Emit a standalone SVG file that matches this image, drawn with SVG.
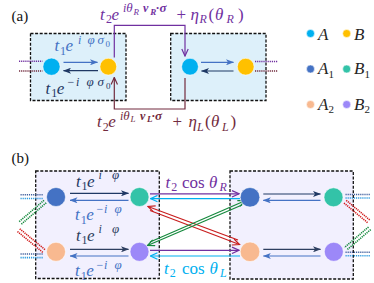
<svg xmlns="http://www.w3.org/2000/svg" width="374" height="283" viewBox="0 0 374 283">
<defs>
<style>
.m{font-family:"Liberation Serif","DejaVu Serif",serif;font-style:italic;font-size:17px}
.u{font-style:normal}
.bd{font-weight:bold}
.s{font-size:12px}
.sb{font-size:13px}
.ss{font-size:9px}
.box{stroke:#111;stroke-width:1.3;stroke-dasharray:3 1.6}
.ba{fill:#DDF0FA}
.bb{fill:#F2F0FE}
.ln{fill:none;stroke-width:1.2}
.dt{fill:none;stroke-width:1.6;stroke-dasharray:1.2 0.9}
.pl{font-family:"Liberation Serif","DejaVu Serif",serif;font-size:15px;fill:#111}
.nd{stroke:#fff;stroke-opacity:.55;stroke-width:1}
</style>
<marker id="mNavy" markerUnits="userSpaceOnUse" markerWidth="8" markerHeight="6" refX="7.5" refY="3" orient="auto"><path d="M0,0 L8,3 L0,6 L2,3z" fill="#1F3864"/></marker>
<marker id="mBlue" markerUnits="userSpaceOnUse" markerWidth="8" markerHeight="6" refX="7.5" refY="3" orient="auto"><path d="M0,0 L8,3 L0,6 L2,3z" fill="#4472C4"/></marker>
<marker id="mSlate" markerUnits="userSpaceOnUse" markerWidth="8" markerHeight="6" refX="7.5" refY="3" orient="auto"><path d="M0,0 L8,3 L0,6 L2,3z" fill="#2E3F60"/></marker>
<marker id="mPurp" markerUnits="userSpaceOnUse" markerWidth="9" markerHeight="8" refX="8" refY="4" orient="auto"><path d="M1,0.8 L8,4 L1,7.2" fill="none" stroke="#7030A0" stroke-width="1.2"/></marker>
<marker id="mMar" markerUnits="userSpaceOnUse" markerWidth="9" markerHeight="8" refX="8" refY="4" orient="auto"><path d="M1,0.8 L8,4 L1,7.2" fill="none" stroke="#722B3E" stroke-width="1.2"/></marker>
<marker id="mCyan" markerUnits="userSpaceOnUse" markerWidth="9" markerHeight="8" refX="8" refY="4" orient="auto"><path d="M1,0.8 L8,4 L1,7.2" fill="none" stroke="#00B0F0" stroke-width="1.2"/></marker>
<marker id="mRed" markerUnits="userSpaceOnUse" markerWidth="9" markerHeight="8" refX="8" refY="4" orient="auto"><path d="M1,0.8 L8,4 L1,7.2" fill="none" stroke="#C81E1E" stroke-width="1.2"/></marker>
<marker id="mGreen" markerUnits="userSpaceOnUse" markerWidth="9" markerHeight="8" refX="8" refY="4" orient="auto"><path d="M1,0.8 L8,4 L1,7.2" fill="none" stroke="#14893C" stroke-width="1.2"/></marker>
</defs>

<!-- panel labels -->
<text class="pl" x="11.5" y="21">(a)</text>
<text class="pl" x="11.5" y="163">(b)</text>

<!-- (a) cell boxes -->
<rect id="cellA1" class="box ba" x="30.5" y="33.5" width="95.5" height="67"/>
<rect id="cellA2" class="box ba" x="170.7" y="33.5" width="95.3" height="67"/>
<!-- (b) cell boxes -->
<rect id="cellB1" class="box bb" x="35.7" y="171" width="123.6" height="107.5"/>
<rect id="cellB2" class="box bb" x="230" y="171" width="123.3" height="108"/>

<g id="connectors">
  <!-- (a) stubs -->
  <line class="dt" x1="19" y1="61.3" x2="42.5" y2="61.3" stroke="#7030A0" stroke-width="1.3"/>
  <line class="dt" x1="19" y1="71" x2="42.5" y2="71" stroke="#722B3E" stroke-width="1.3"/>
  <line class="dt" x1="255" y1="61.5" x2="278" y2="61.5" stroke="#7030A0" stroke-width="1.3"/>
  <line class="dt" x1="255" y1="71" x2="278" y2="71" stroke="#722B3E" stroke-width="1.3"/>
  <!-- (a) intra-cell -->
  <line class="ln" x1="63.5" y1="62.3" x2="97.5" y2="62.3" stroke="#4472C4" marker-end="url(#mBlue)"/>
  <line class="ln" x1="98" y1="70.7" x2="63.5" y2="70.7" stroke="#1F3864" marker-end="url(#mNavy)"/>
  <line class="ln" x1="201" y1="62.3" x2="233.5" y2="62.3" stroke="#4472C4" marker-end="url(#mBlue)"/>
  <line class="ln" x1="233.5" y1="71" x2="201.5" y2="71" stroke="#1F3864" marker-end="url(#mNavy)"/>
  <!-- (a) inter-cell -->
  <polyline class="ln" points="114.3,57.5 114.3,25.3 185,25.3 185,56" stroke="#7030A0" stroke-width="1.3" marker-end="url(#mPurp)"/>
  <polyline class="ln" points="185,78 185,109 114.3,109 114.3,77.5" stroke="#722B3E" stroke-width="1.3" marker-end="url(#mMar)"/>

  <!-- (b) stubs left -->
  <line class="dt" x1="20.5" y1="194.8" x2="43.5" y2="194.8" stroke="#41609E"/>
  <line class="dt" x1="20.5" y1="198.5" x2="43.5" y2="198.5" stroke="#2D9BE0"/>
  <line class="dt" x1="20.5" y1="254" x2="43.5" y2="254" stroke="#41609E"/>
  <line class="dt" x1="20.5" y1="257.6" x2="43.5" y2="257.6" stroke="#2D9BE0"/>
  <line class="dt" x1="44" y1="200.3" x2="19" y2="221.8" stroke="#14893C" stroke-width="1.3"/>
  <line class="dt" x1="46.2" y1="202.8" x2="21.2" y2="224.3" stroke="#14893C" stroke-width="1.3"/>
  <line class="dt" x1="17.5" y1="231.5" x2="43" y2="252.5" stroke="#D01818" stroke-width="1.3"/>
  <line class="dt" x1="19.7" y1="228.8" x2="45.2" y2="249.8" stroke="#D01818" stroke-width="1.3"/>
  <!-- (b) stubs right -->
  <line class="dt" x1="345.5" y1="194.5" x2="370" y2="194.5" stroke="#41609E"/>
  <line class="dt" x1="345.5" y1="198" x2="370" y2="198" stroke="#2D9BE0"/>
  <line class="dt" x1="345.5" y1="252.2" x2="370" y2="252.2" stroke="#41609E"/>
  <line class="dt" x1="345.5" y1="255.8" x2="370" y2="255.8" stroke="#2D9BE0"/>
  <line class="dt" x1="344" y1="203" x2="368" y2="223" stroke="#D01818" stroke-width="1.3"/>
  <line class="dt" x1="346.2" y1="200.3" x2="370.2" y2="220.3" stroke="#D01818" stroke-width="1.3"/>
  <line class="dt" x1="368.5" y1="227" x2="344.5" y2="247.5" stroke="#14893C" stroke-width="1.3"/>
  <line class="dt" x1="370.7" y1="229.6" x2="346.7" y2="250.1" stroke="#14893C" stroke-width="1.3"/>

  <!-- (b) intra-cell -->
  <line class="ln" x1="70" y1="193.3" x2="128.5" y2="193.3" stroke="#1F3864" marker-end="url(#mNavy)"/>
  <line class="ln" x1="128.5" y1="200.3" x2="70" y2="200.3" stroke="#4472C4" marker-end="url(#mBlue)"/>
  <line class="ln" x1="70" y1="249.3" x2="128.5" y2="249.3" stroke="#2E3F60" marker-end="url(#mSlate)"/>
  <line class="ln" x1="128.5" y1="256" x2="70" y2="256" stroke="#4472C4" marker-end="url(#mBlue)"/>
  <line class="ln" x1="263.3" y1="194" x2="320.5" y2="194" stroke="#1F3864" marker-end="url(#mNavy)"/>
  <line class="ln" x1="320.5" y1="200.3" x2="263.3" y2="200.3" stroke="#4472C4" marker-end="url(#mBlue)"/>
  <line class="ln" x1="263.3" y1="249.3" x2="320.5" y2="249.3" stroke="#2E3F60" marker-end="url(#mSlate)"/>
  <line class="ln" x1="320.5" y1="256" x2="263.3" y2="256" stroke="#4472C4" marker-end="url(#mBlue)"/>

  <!-- (b) inter-cell -->
  <line class="ln" x1="150" y1="193.8" x2="239" y2="193.8" stroke="#7030A0" stroke-width="1.4" marker-end="url(#mPurp)"/>
  <line class="ln" x1="240" y1="198.6" x2="150.5" y2="198.6" stroke="#00B0F0" stroke-width="1.4" marker-end="url(#mCyan)"/>
  <line class="ln" x1="150" y1="250.3" x2="239" y2="250.3" stroke="#7030A0" stroke-width="1.4" marker-end="url(#mPurp)"/>
  <line class="ln" x1="240" y1="256" x2="150.5" y2="256" stroke="#00B0F0" stroke-width="1.4" marker-end="url(#mCyan)"/>
  <line class="ln" x1="238" y1="240" x2="148" y2="206.5" stroke="#C81E1E" marker-end="url(#mRed)"/>
  <line class="ln" x1="150" y1="210.5" x2="239.5" y2="244.5" stroke="#C81E1E" marker-end="url(#mRed)"/>
  <line class="ln" x1="150" y1="242" x2="245" y2="200.7" stroke="#14893C" marker-end="url(#mGreen)"/>
  <line class="ln" x1="242" y1="205" x2="147.5" y2="245.5" stroke="#14893C" marker-end="url(#mGreen)"/>
</g>

<!-- (a) nodes -->
<g id="a-A-left"><circle class="nd" cx="51.5" cy="66.7" r="8.6" fill="#00B0F0"/></g>
<g id="a-B-left"><circle class="nd" cx="108.3" cy="66.7" r="8.4" fill="#FFC000"/></g>
<g id="a-A-right"><circle class="nd" cx="190" cy="66.7" r="8.4" fill="#00B0F0"/></g>
<g id="a-B-right"><circle class="nd" cx="245.7" cy="66.7" r="8.4" fill="#FFC000"/></g>

<!-- (b) nodes -->
<g id="b-A1-left"><circle class="nd" cx="56" cy="197" r="9.5" fill="#4472C4"/></g>
<g id="b-B1-left"><circle class="nd" cx="139.5" cy="197" r="9.5" fill="#33C3A8"/></g>
<g id="b-A2-left"><circle class="nd" cx="56" cy="251.8" r="9.5" fill="#F8B990"/></g>
<g id="b-B2-left"><circle class="nd" cx="139.5" cy="251.8" r="9.5" fill="#9C88F8"/></g>
<g id="b-A1-right"><circle class="nd" cx="250" cy="197.3" r="9.8" fill="#4472C4"/></g>
<g id="b-B1-right"><circle class="nd" cx="333.5" cy="197.3" r="9.5" fill="#33C3A8"/></g>
<g id="b-A2-right"><circle class="nd" cx="250" cy="251.8" r="9.8" fill="#F8B990"/></g>
<g id="b-B2-right"><circle class="nd" cx="333.8" cy="251.8" r="9.5" fill="#9C88F8"/></g>

<!-- legend -->
<g id="legend-A"><circle class="nd" cx="310.5" cy="33.5" r="4" fill="#00B0F0"/><text class="m" x="318" y="40" font-size="16" fill="#262626">A</text></g>
<g id="legend-B"><circle class="nd" cx="346.7" cy="33.5" r="4" fill="#FFC000"/><text class="m" x="354" y="40" font-size="16" fill="#262626">B</text></g>
<g id="legend-A1"><circle class="nd" cx="310.5" cy="69" r="4" fill="#4472C4"/><text class="m" x="318" y="74" font-size="16" fill="#262626">A<tspan class="u" font-size="11" y="77.5">1</tspan></text></g>
<g id="legend-B1"><circle class="nd" cx="346.7" cy="69" r="4" fill="#33C3A8"/><text class="m" x="354" y="74" font-size="16" fill="#262626">B<tspan class="u" font-size="11" y="77.5">1</tspan></text></g>
<g id="legend-A2"><circle class="nd" cx="310.5" cy="104.5" r="4" fill="#F8B990"/><text class="m" x="318" y="109.5" font-size="16" fill="#262626">A<tspan class="u" font-size="11" y="113">2</tspan></text></g>
<g id="legend-B2"><circle class="nd" cx="346.7" cy="104.5" r="4" fill="#9C88F8"/><text class="m" x="354" y="109.5" font-size="16" fill="#262626">B<tspan class="u" font-size="11" y="113">2</tspan></text></g>

<!-- (a) labels -->
<text class="m" fill="#7030A0"><tspan x="100" y="19.5">t</tspan><tspan class="u s" x="106" y="23">2</tspan><tspan x="111.5" y="19.5">e</tspan><tspan class="s" x="123" y="12">i</tspan><tspan class="sb" x="126.3" y="12">θ</tspan><tspan class="ss" x="133.5" y="14.5">R</tspan><tspan class="bd s" x="143" y="12">v</tspan><tspan class="bd ss" x="150.2" y="14.5">R</tspan><tspan class="bd s" x="156" y="12">·</tspan><tspan class="bd sb" x="159.5" y="12">σ</tspan><tspan class="u" x="176.5" y="19.5">+</tspan><tspan x="190.5" y="19.5">η</tspan><tspan class="s" x="199.5" y="23">R</tspan><tspan class="u" x="208.5" y="19.5">(</tspan><tspan x="215" y="19.5">θ</tspan><tspan class="s" x="226.5" y="23">R</tspan><tspan class="u" x="238" y="19.5">)</tspan></text>

<text class="m" fill="#722B3E"><tspan x="97" y="127">t</tspan><tspan class="u s" x="102.7" y="130.5">2</tspan><tspan x="108.3" y="127">e</tspan><tspan class="s" x="120" y="119.5">i</tspan><tspan class="sb" x="123.3" y="119.5">θ</tspan><tspan class="ss" x="130.5" y="122">L</tspan><tspan class="bd s" x="140" y="119.5">v</tspan><tspan class="bd ss" x="147" y="122">L</tspan><tspan class="bd s" x="151.8" y="119.5">·</tspan><tspan class="bd sb" x="155" y="119.5">σ</tspan><tspan class="u" x="172.5" y="127">+</tspan><tspan x="188.5" y="127">η</tspan><tspan class="s" x="197" y="130.5">L</tspan><tspan class="u" x="205" y="127">(</tspan><tspan x="211" y="127">θ</tspan><tspan class="s" x="222" y="130.5">L</tspan><tspan class="u" x="230.5" y="127">)</tspan></text>

<text class="m" fill="#4472C4"><tspan x="54.5" y="51">t</tspan><tspan class="u s" x="60" y="54.5">1</tspan><tspan x="65.5" y="51">e</tspan><tspan class="s" x="78" y="43.5">i</tspan><tspan class="sb" x="87.5" y="43.5">φ</tspan><tspan class="sb" x="97.5" y="43.5">σ</tspan><tspan class="u ss" x="105.5" y="46.5">0</tspan></text>

<text class="m" fill="#1F3864"><tspan x="45.5" y="93.5">t</tspan><tspan class="u s" x="51.3" y="97">1</tspan><tspan x="56.8" y="93.5">e</tspan><tspan class="u s" x="67.5" y="86">−</tspan><tspan class="s" x="76" y="86">i</tspan><tspan class="sb" x="86.5" y="86">φ</tspan><tspan class="sb" x="97.5" y="86">σ</tspan><tspan class="u ss" x="106" y="89">0</tspan></text>

<!-- (b) labels -->
<text class="m" fill="#1F3864"><tspan x="76" y="186.5">t</tspan><tspan class="u s" x="81.5" y="190">1</tspan><tspan x="87" y="186.5">e</tspan><tspan class="s" x="98.5" y="179">i</tspan><tspan class="sb" x="112" y="179">φ</tspan></text>
<text class="m" fill="#4472C4"><tspan x="75" y="220">t</tspan><tspan class="u s" x="80.7" y="223.5">1</tspan><tspan x="86.2" y="220">e</tspan><tspan class="u s" x="96.5" y="212.5">−</tspan><tspan class="s" x="104" y="212.5">i</tspan><tspan class="sb" x="114.5" y="212.5">φ</tspan></text>
<text class="m" fill="#2E3F60"><tspan x="76" y="240.5">t</tspan><tspan class="u s" x="81.5" y="244">1</tspan><tspan x="87" y="240.5">e</tspan><tspan class="s" x="98.5" y="233">i</tspan><tspan class="sb" x="112" y="233">φ</tspan></text>
<text class="m" fill="#4472C4"><tspan x="75" y="276">t</tspan><tspan class="u s" x="80.7" y="279.5">1</tspan><tspan x="86.2" y="276">e</tspan><tspan class="u s" x="96.5" y="268.5">−</tspan><tspan class="s" x="104" y="268.5">i</tspan><tspan class="sb" x="114.5" y="268.5">φ</tspan></text>

<text class="m" fill="#7030A0"><tspan x="165.5" y="187.5">t</tspan><tspan class="u s" x="171.3" y="191">2</tspan><tspan class="u" x="182" y="187.5">cos</tspan><tspan x="209" y="187.5">θ</tspan><tspan class="s" x="219.5" y="191">R</tspan></text>
<text class="m" fill="#00B0F0"><tspan x="164" y="273.5">t</tspan><tspan class="u s" x="169.8" y="277">2</tspan><tspan class="u" x="182" y="273.5">cos</tspan><tspan x="209.5" y="273.5">θ</tspan><tspan class="s" x="220" y="277">L</tspan></text>
</svg>
